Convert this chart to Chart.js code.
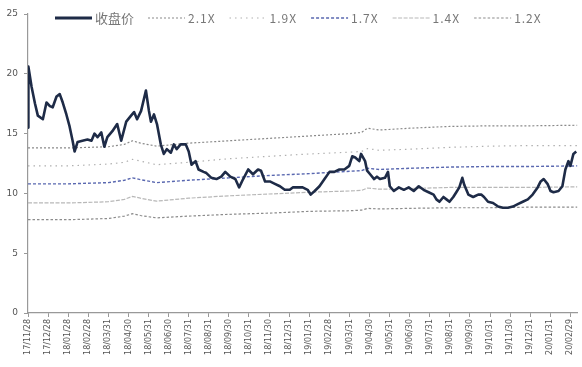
<!DOCTYPE html>
<html>
<head>
<meta charset="utf-8">
<script src="https://cdn.jsdelivr.net/npm/chart.js@4/dist/chart.umd.min.js"></script>
<style>
  html, body { margin: 0; padding: 0; background: #fff; }
  #wrap { width: 582px; height: 367px; position: relative; }
</style>
</head>
<body>
<div id="wrap"><canvas id="c"></canvas></div>
<script>
// Month-end tick labels (x position = index in months since 17/11/28)
const tickLabels = ["17/11/28","17/12/28","18/01/28","18/02/28","18/03/31","18/04/30","18/05/31","18/06/30","18/07/31","18/08/31","18/09/30","18/10/31","18/11/30","18/12/31","19/01/31","19/02/28","19/03/31","19/04/30","19/05/31","19/06/30","19/07/31","19/08/31","19/09/30","19/10/31","19/11/30","19/12/31","20/01/31","20/02/29"];

// Closing price: time (months since first tick) and value
const priceT = [0,0.02,0.18,0.35,0.49,0.74,0.92,1.09,1.23,1.42,1.58,1.73,1.91,2.07,2.22,2.32,2.47,2.71,2.96,3.16,3.31,3.46,3.65,3.80,3.95,4.20,4.44,4.64,4.89,5.13,5.28,5.43,5.63,5.87,6.02,6.12,6.27,6.42,6.61,6.76,6.91,7.11,7.26,7.40,7.60,7.85,8.00,8.14,8.34,8.49,8.74,8.88,9.13,9.38,9.62,9.82,10.07,10.32,10.51,10.71,10.96,11.20,11.45,11.60,11.80,12.04,12.29,12.54,12.78,13.03,13.18,13.43,13.67,13.92,14.07,14.27,14.51,14.76,15.01,15.25,15.50,15.75,15.99,16.14,16.29,16.49,16.58,16.78,16.88,17.03,17.23,17.37,17.52,17.77,17.92,18.01,18.21,18.46,18.71,18.95,19.20,19.45,19.69,19.94,20.19,20.33,20.48,20.68,20.83,20.98,21.17,21.32,21.47,21.62,21.72,21.92,22.16,22.41,22.56,22.70,22.90,23.15,23.40,23.64,23.89,24.14,24.38,24.63,24.88,25.12,25.37,25.52,25.67,25.86,26.01,26.16,26.41,26.60,26.75,26.90,27.00,27.15,27.29];
const priceClose = [15.5,20.6,18.9,17.5,16.5,16.2,17.6,17.3,17.2,18.1,18.3,17.6,16.6,15.6,14.4,13.5,14.3,14.4,14.5,14.4,15.0,14.7,15.1,13.9,14.7,15.2,15.8,14.4,16.0,16.5,16.8,16.2,16.9,18.6,16.9,16.0,16.6,15.8,14.1,13.3,13.7,13.4,14.1,13.7,14.1,14.1,13.5,12.4,12.7,12.0,11.8,11.7,11.3,11.2,11.4,11.8,11.4,11.2,10.5,11.2,12.0,11.6,12.0,11.9,11.0,11.0,10.8,10.6,10.3,10.3,10.5,10.5,10.5,10.3,9.9,10.2,10.6,11.2,11.8,11.8,12.0,12.0,12.3,13.1,13.0,12.7,13.3,12.7,11.9,11.6,11.2,11.4,11.2,11.3,11.8,10.6,10.2,10.5,10.3,10.5,10.2,10.6,10.3,10.1,9.9,9.5,9.3,9.7,9.5,9.3,9.7,10.1,10.5,11.3,10.7,9.9,9.7,9.9,9.9,9.7,9.3,9.2,8.9,8.8,8.8,8.9,9.1,9.3,9.5,9.9,10.5,11.0,11.2,10.8,10.2,10.1,10.2,10.6,12.0,12.7,12.3,13.3,13.5];

// PB band lines
const bandT = [0,2,4,4.8,5.2,5.6,6.4,8,10,12,14,16,16.6,16.9,17.5,19,21,23,25,27.35];
const band21 = [13.8,13.8,13.9,14.1,14.4,14.2,13.95,14.2,14.4,14.6,14.8,15.0,15.1,15.45,15.3,15.45,15.6,15.65,15.65,15.7];
const band19 = [12.3,12.3,12.45,12.6,12.85,12.7,12.4,12.6,12.9,13.1,13.3,13.45,13.5,13.75,13.6,13.7,13.85,13.95,14.0,14.0];
const band17 = [10.8,10.8,10.9,11.1,11.3,11.15,10.9,11.1,11.3,11.5,11.65,11.85,11.9,12.1,12.0,12.1,12.2,12.25,12.25,12.3];
const band14 = [9.2,9.2,9.3,9.5,9.75,9.6,9.35,9.6,9.8,9.95,10.1,10.2,10.25,10.45,10.35,10.4,10.5,10.5,10.5,10.55];
const band12 = [7.8,7.8,7.9,8.1,8.3,8.15,7.95,8.1,8.25,8.35,8.5,8.55,8.6,8.75,8.7,8.75,8.8,8.8,8.85,8.85];

const seriesNames = ["收盘价","2.1X","1.9X","1.7X","1.4X","1.2X"];
const yTicks = [0,5,10,15,20,25];

function pts(t, v) { return t.map((x, i) => ({x: x, y: v[i]})); }

const bandStyle = (color, dash, w) => ({
  borderColor: color, backgroundColor: color, borderDash: dash, borderWidth: w,
  pointRadius: 0, fill: false, tension: 0
});

// Legend drawn on top of the plot area (as in the reference)
const overlayLegend = {
  id: 'overlayLegend',
  afterDraw(chart) {
    const ctx = chart.ctx;
    let x = 55;
    const y = 18;
    const sample = 37;
    ctx.save();
    ctx.font = '12px "Noto Sans CJK SC", "DejaVu Sans", sans-serif';
    ctx.textBaseline = 'middle';
    chart.data.datasets.forEach((ds, i) => {
      ctx.save();
      ctx.strokeStyle = ds.borderColor;
      ctx.lineWidth = i === 0 ? 3 : ds.borderWidth;
      ctx.setLineDash(ds.borderDash || []);
      ctx.beginPath();
      ctx.moveTo(x, y);
      ctx.lineTo(x + sample, y);
      ctx.stroke();
      ctx.restore();
      x += sample + 3;
      ctx.fillStyle = '#777';
      if (i === 0) {
        ctx.font = '13px "Noto Sans CJK SC", sans-serif';
        ctx.letterSpacing = '0px';
      } else {
        ctx.font = '12px "Noto Sans CJK SC", "DejaVu Sans", sans-serif';
        ctx.letterSpacing = '1px';
      }
      ctx.fillText(ds.label, x, y);
      x += ctx.measureText(ds.label).width + 14;
    });
    ctx.restore();
  }
};

new Chart(document.getElementById('c'), {
  type: 'line',
  data: {
    datasets: [
      { label: seriesNames[0], data: pts(priceT, priceClose), borderColor: '#1e2b47', backgroundColor: '#1e2b47', borderWidth: 2.6, pointRadius: 0, tension: 0, borderJoinStyle: 'round' },
      Object.assign({ label: seriesNames[1], data: pts(bandT, band21) }, bandStyle('#8a8a8a', [2, 2], 1.2)),
      Object.assign({ label: seriesNames[2], data: pts(bandT, band19) }, bandStyle('#b0b0b0', [1.5, 4], 1.2)),
      Object.assign({ label: seriesNames[3], data: pts(bandT, band17) }, bandStyle('#5a68b0', [3, 2], 1.4)),
      Object.assign({ label: seriesNames[4], data: pts(bandT, band14) }, bandStyle('#b8b8b8', [4, 1.5], 1.2)),
      Object.assign({ label: seriesNames[5], data: pts(bandT, band12) }, bandStyle('#8c8c8c', [2.5, 2], 1.2))
    ]
  },
  plugins: [overlayLegend],
  options: {
    responsive: true,
    maintainAspectRatio: false,
    animation: false,
    layout: { padding: { top: 14, right: 0, left: 0, bottom: 0 } },
    plugins: {
      tooltip: { enabled: false },
      legend: { display: false }
    },
    scales: {
      x: {
        type: 'linear',
        min: 0,
        max: 27.35,
        afterBuildTicks: (s) => { s.ticks = tickLabels.map((_, i) => ({ value: i })); },
        afterFit: (s) => { s.height = 54; },
        border: { color: '#999', width: 1.2 },
        grid: { drawOnChartArea: false, drawTicks: true, tickLength: 4, color: '#999' },
        ticks: {
          autoSkip: false,
          maxRotation: 90,
          minRotation: 90,
          padding: 2,
          color: '#555',
          font: { family: '"DejaVu Sans", sans-serif', size: 8 },
          callback: (v) => tickLabels[Math.round(v)] || ''
        }
      },
      y: {
        min: 0,
        max: 25,
        afterBuildTicks: (s) => { s.ticks = yTicks.map(v => ({ value: v })); },
        afterFit: (s) => { s.width = 28; },
        border: { color: '#999', width: 1.2 },
        grid: { drawOnChartArea: false, drawTicks: true, tickLength: 4, color: '#999' },
        ticks: {
          padding: 6,
          color: '#555',
          font: { family: '"DejaVu Sans", sans-serif', size: 9 }
        }
      }
    }
  }
});
</script>
</body>
</html>
